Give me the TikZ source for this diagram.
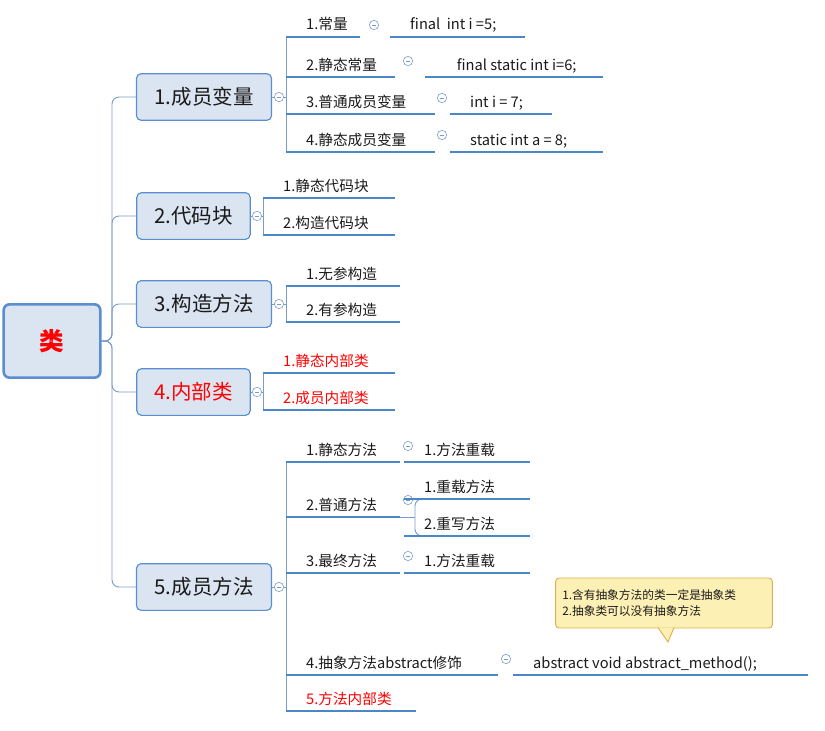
\documentclass[tikz,border=0pt]{standalone}
\usepackage{fontspec}
\setmainfont{Noto Sans CJK SC}
\usepackage{xcolor}
\definecolor{mboxfill}{HTML}{DBE5F1}
\definecolor{mboxline}{HTML}{5B8ED0}
\definecolor{mline}{HTML}{4A86C8}
\definecolor{mconn}{HTML}{7A9CC6}
\definecolor{mnote}{HTML}{FDF0B4}
\definecolor{mnoteline}{HTML}{E0B050}
\definecolor{mred}{HTML}{FF0000}
\definecolor{mtext}{HTML}{1A1A1A}
% underline of a leaf: x0, x1, y, name, text, colour
\newcommand{\leafnode}[6]{%
  \draw[uline] (#1,#3) -- (#2,#3);
  \node[leaf, text=#6, anchor=base west] (#4) at ({#1+20},{#3-7}) {#5};}
\newcommand{\fold}[3]{%
  \node[foldmark] (#1) at (#2,#3) {};
  \draw[mconn, line width=.5pt] ({#2-2.2},#3) -- ({#2+2.2},#3);}

\begin{document}
\begin{tikzpicture}[x=0.03cm, y=-0.03cm,
    rootbox/.style={draw=mboxline, line width=2.2pt, fill=mboxfill, rounded corners=5pt,
      minimum width=2.9cm, minimum height=2.2cm, font=\fontsize{21}{24}\selectfont\bfseries, text=mred},
    topicbox/.style={draw=mboxline, line width=1pt, fill=mboxfill, rounded corners=4pt,
      minimum width=4.05cm, minimum height=1.4cm, font=\fontsize{17.5}{20}\selectfont, text=mtext},
    leaf/.style={inner sep=0pt, font=\fontsize{12.5}{15}\selectfont},
    uline/.style={mline, line width=1.5pt},
    conn/.style={mconn, line width=.8pt, rounded corners=6pt},
    foldmark/.style={circle, draw=mconn, line width=.5pt, fill=white, minimum size=8pt, inner sep=0pt},
    notebox/.style={draw=mnoteline, line width=.8pt, fill=mnote, rounded corners=3pt, align=left,
      font=\fontsize{10}{13}\selectfont, text=mtext}]
  \useasboundingbox (0,0) rectangle (825,730);

  \node[rootbox] (root) at (52,341) {类};
  \node[topicbox] (b1) at (204,97) {1.成员变量};
  \node[topicbox, minimum width=3.4cm] (b2) at (193.5,216) {2.代码块};
  \node[topicbox] (b3) at (204,304) {3.构造方法};
  \node[topicbox, minimum width=3.4cm, text=mred] (b4) at (193.5,392) {4.内部类};
  \node[topicbox] (b5) at (204,587) {5.成员方法};

  \foreach \b in {b1,b2,b3,b4,b5}
    \draw[conn] (root.east) -- (112,341) |- (\b.west);

  % member variables
  \draw[conn] (b1.east) -- (286,97);
  \draw[conn] (286,37) -- (286,152);
  \fold{f1}{279}{97}
  \leafnode{286}{360}{37}{v1}{1.常量}{mtext}
  \fold{f11}{374}{25}
  \leafnode{390}{525}{37}{v1a}{final\ \ int i =5;}{mtext}
  \leafnode{286}{395}{77}{v2}{2.静态常量}{mtext}
  \fold{f12}{408}{61}
  \leafnode{425}{603}{77}{v2a}{\hspace{10pt}final static int i=6;}{mtext}
  \leafnode{286}{435}{114}{v3}{3.普通成员变量}{mtext}
  \fold{f13}{442}{98}
  \leafnode{450}{552}{114}{v3a}{int i = 7;}{mtext}
  \leafnode{286}{435}{152}{v4}{4.静态成员变量}{mtext}
  \fold{f14}{442}{135}
  \leafnode{450}{603}{152}{v4a}{static int a = 8;}{mtext}

  % code blocks
  \draw[conn] (b2.east) -- (263,216);
  \draw[conn] (263,198) -- (263,235);
  \fold{f2}{257}{216}
  \leafnode{263}{395}{198}{k1}{1.静态代码块}{mtext}
  \leafnode{263}{395}{235}{k2}{2.构造代码块}{mtext}

  % constructors
  \draw[conn] (b3.east) -- (286,304);
  \draw[conn] (286,286) -- (286,322);
  \fold{f3}{279}{304}
  \leafnode{286}{400}{286}{c1}{1.无参构造}{mtext}
  \leafnode{286}{400}{322}{c2}{2.有参构造}{mtext}

  % inner classes
  \draw[conn] (b4.east) -- (263,392);
  \draw[conn] (263,373) -- (263,410);
  \fold{f4}{257}{392}
  \leafnode{263}{395}{373}{i1}{1.静态内部类}{mred}
  \leafnode{263}{395}{410}{i2}{2.成员内部类}{mred}

  % methods
  \draw[conn] (b5.east) -- (286,587);
  \draw[conn] (286,462) -- (286,711);
  \fold{f5}{279}{587}
  \leafnode{286}{400}{462}{m1}{1.静态方法}{mtext}
  \fold{f51}{408}{446}
  \leafnode{404}{530}{462}{m1a}{1.方法重载}{mtext}
  \leafnode{286}{400}{517}{m2}{2.普通方法}{mtext}
  \fold{f52}{408}{500}
  \draw[conn] (400,517) -- (415,517);
  \draw[conn] (424,499) -| (415,536) -- (424,536);
  \leafnode{404}{530}{499}{m2a}{1.重载方法}{mtext}
  \leafnode{404}{530}{536}{m2b}{2.重写方法}{mtext}
  \leafnode{286}{400}{573}{m3}{3.最终方法}{mtext}
  \fold{f53}{408}{556}
  \leafnode{404}{530}{573}{m3a}{1.方法重载}{mtext}
  \leafnode{286}{498}{675}{m4}{4.抽象方法abstract修饰}{mtext}
  \fold{f54}{506}{659}
  \leafnode{513}{808}{675}{m4a}{abstract void abstract\_method();}{mtext}
  \leafnode{286}{416}{711}{m5}{5.方法内部类}{mred}

  % note on the abstract method
  \node[notebox, minimum width=6.5cm, minimum height=1.5cm, text width=6.1cm] (note) at (664,603)
    {1.含有抽象方法的类一定是抽象类\\2.抽象类可以没有抽象方法};
  \draw[mnoteline, line width=.8pt, fill=mnote] (658,627.5) -- (668,642) -- (674,627.5);
\end{tikzpicture}
\end{document}
